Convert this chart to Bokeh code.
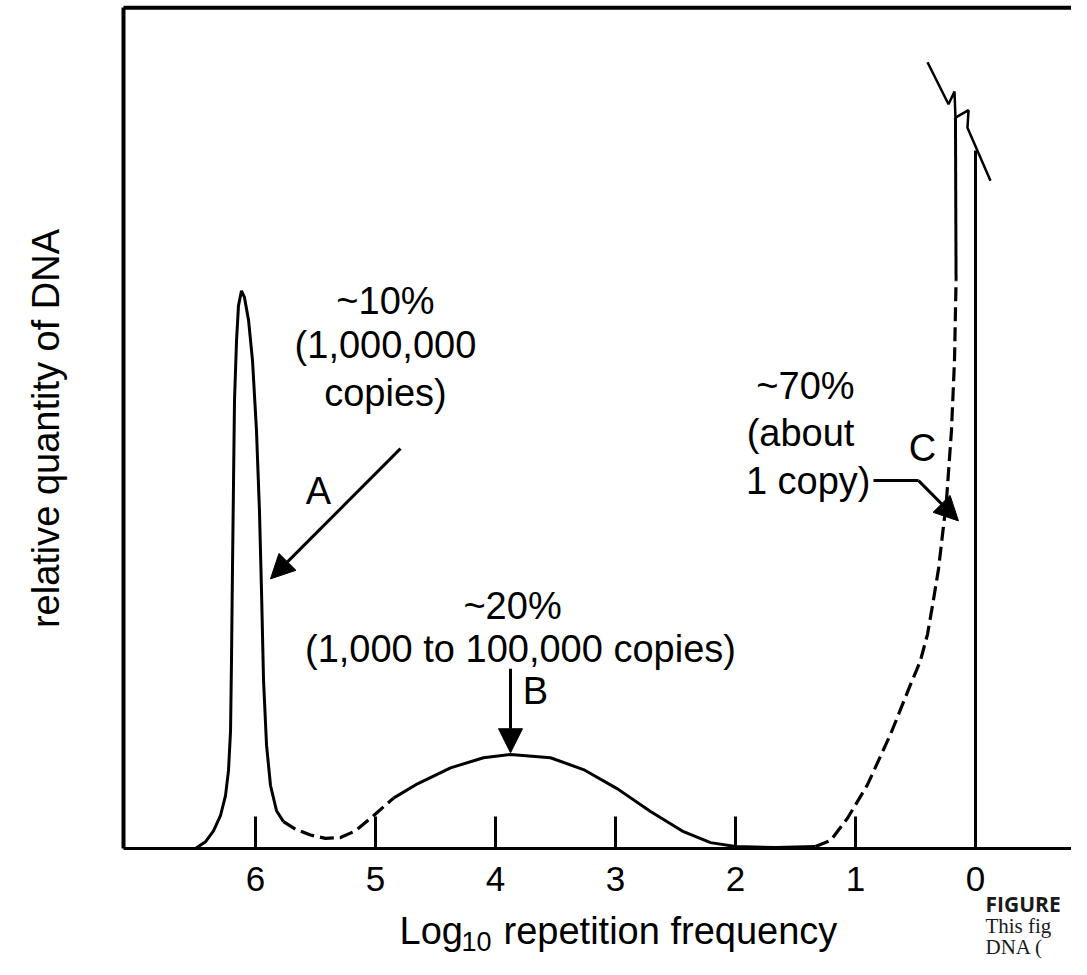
import math
from bokeh.plotting import figure
from bokeh.models import Range1d, FixedTicker, Arrow, NormalHead
from bokeh.core.properties import value
from bokeh.embed import file_html
from bokeh.resources import INLINE

# ---------------- data (x = log10 repetition frequency, y = relative quantity, 0-100) -------------
tick_values = [6, 5, 4, 3, 2, 1, 0]
tick_labels = {6: "6", 5: "5", 4: "4", 3: "3", 2: "2", 1: "1", 0: "0"}

peak_x = [6.500, 6.417, 6.350, 6.292, 6.250, 6.225, 6.208, 6.200, 6.192, 6.183, 6.175, 6.158,
          6.142, 6.117, 6.092, 6.058, 6.025, 5.992, 5.967, 5.950, 5.933, 5.908, 5.875, 5.825, 5.767]
peak_y = [0.0, 0.8, 2.1, 3.9, 6.3, 9.3, 14.0, 22.4, 33.1, 43.8, 53.3, 60.5,
          64.6, 66.4, 65.6, 62.9, 58.1, 49.8, 40.2, 30.7, 20.0, 12.3, 7.5, 4.5, 3.2]

trough_x = [5.767, 5.667, 5.542, 5.417, 5.292, 5.167, 5.017, 4.850]
trough_y = [3.2, 2.3, 1.6, 1.2, 1.3, 2.1, 3.9, 6.0]

hump_x = [4.850, 4.650, 4.375, 4.100, 3.875, 3.542, 3.267, 2.983, 2.708, 2.433, 2.208, 2.000, 1.667, 1.333]
hump_y = [6.0, 7.7, 9.6, 10.8, 11.2, 10.8, 9.4, 7.1, 4.4, 2.0, 0.7, 0.25, 0.12, 0.25]

rise_x = [1.333, 1.208, 1.067, 0.900, 0.708, 0.542, 0.460, 0.400, 0.355, 0.308, 0.242, 0.200, 0.175, 0.162]
rise_y = [0.25, 0.95, 3.6, 7.6, 13.6, 19.5, 22.3, 25.5, 29.2, 33.3, 41.4, 49.8, 58.1, 67.6]

top_x = [0.162, 0.167]
top_y = [67.6, 87.0]

break_x = [0.400, 0.225, 0.175, 0.167, 0.058, 0.067, -0.125]
break_y = [93.6, 88.6, 90.1, 87.0, 87.9, 85.8, 79.5]

zero_x = [0.0, 0.0]
zero_y = [0.0, 83.1]

frame_left = 7.1
frame_top = 100.1
top_border_x = [7.1, -0.9]
top_border_y = [frame_top, frame_top]

# annotation texts
note_x = [4.917, 4.917, 4.917, 5.475, 3.858, 3.792, 3.667, 1.417, 1.458, 0.442]
note_y = [65.2, 59.9, 54.2, 42.6, 28.9, 23.8, 18.8, 55.1, 49.5, 47.7]
note_text = ["~10%", "(1,000,000", "copies)", "A", "~20%", "(1,000 to 100,000 copies)", "B",
             "~70%", "(about", "C"]
copy_x, copy_y, copy_text = [0.875], [43.8], ["1 copy)"]

ylabel_x, ylabel_y, ylabel_text = [7.75], [50.0], ["relative quantity of DNA"]
xtitle_x, xtitle_y, xtitle_text = [4.80, 3.933], [-9.8, -9.8], ["Log", "repetition frequency"]
sub_x, sub_y, sub_text = [4.283], [-11.07], ["10"]
cap_head_x, cap_head_y, cap_head_text = [-0.083], [-6.55], ["FIGURE"]
cap_body_x, cap_body_y, cap_body_text = [-0.083, -0.083], [-9.17, -11.67], ["This fig", "DNA ("]

# arrows: start/end
arrowA = (4.792, 47.6, 5.875, 32.1)
arrowB = (3.875, 21.4, 3.875, 11.4)
leaderC_x = [0.850, 0.475]
leaderC_y = [43.8, 43.8]
arrowC = (0.475, 43.8, 0.142, 39.0)

FONT = "Liberation Sans"
FS = "38px"

p = figure(width=1071, height=959, output_backend="svg", toolbar_location=None,
           x_range=Range1d(8.125, -0.8), y_range=Range1d(-13.214, 100.952),
           min_border=0)
p.outline_line_color = None
p.xgrid.visible = False
p.ygrid.visible = False
p.background_fill_color = "white"
p.border_fill_color = "white"

xa = p.xaxis[0]
xa.fixed_location = 0
xa.bounds = (-0.9, frame_left)
xa.ticker = FixedTicker(ticks=tick_values)
xa.major_label_overrides = tick_labels
xa.major_tick_in = 32
xa.major_tick_out = 0
xa.minor_tick_line_color = None
xa.axis_line_width = 3
xa.axis_line_color = "black"
xa.major_tick_line_width = 3
xa.major_tick_line_color = "black"
xa.major_label_text_font = FONT
xa.major_label_text_font_size = "35px"
xa.major_label_text_color = "black"
xa.major_label_standoff = 18

ya = p.yaxis[0]
ya.fixed_location = frame_left
ya.bounds = (0, frame_top)
ya.ticker = FixedTicker(ticks=[])
ya.minor_tick_line_color = None
ya.major_tick_line_color = None
ya.major_label_text_font_size = "0px"
ya.axis_line_width = 4
ya.axis_line_color = "black"

p.line(top_border_x, top_border_y, line_width=4, line_color="black")

p.line(peak_x, peak_y, line_width=3, line_color="black")
p.line(trough_x, trough_y, line_width=3.2, line_color="black", line_dash="14 6")
p.line(hump_x, hump_y, line_width=3, line_color="black")
p.line(rise_x, rise_y, line_width=3.2, line_color="black", line_dash="14 6")
p.line(top_x, top_y, line_width=3, line_color="black")
p.line(break_x, break_y, line_width=2.5, line_color="black")
p.line(zero_x, zero_y, line_width=3, line_color="black")

txt = dict(text_font=value(FONT), text_font_size=FS, text_baseline="middle", text_color="black")
p.text(x=note_x, y=note_y, text=note_text, text_align="center", **txt)
p.text(x=copy_x, y=copy_y, text=copy_text, text_align="right", **txt)
p.text(x=ylabel_x, y=ylabel_y, text=ylabel_text, text_align="center", angle=math.pi / 2, **txt)
p.text(x=xtitle_x, y=xtitle_y, text=xtitle_text, text_align="left", **txt)
p.text(x=sub_x, y=sub_y, text=sub_text, text_align="left", text_font=value(FONT),
       text_font_size="27px", text_baseline="middle", text_color="black")
p.text(x=cap_head_x, y=cap_head_y, text=cap_head_text, text_align="left",
       text_font=value("Open Sans"), text_font_style="bold", text_font_size="21px",
       text_baseline="middle", text_color="#1a1a1a")
p.text(x=cap_body_x, y=cap_body_y, text=cap_body_text, text_align="left",
       text_font=value("Liberation Serif"), text_font_size="21px",
       text_baseline="middle", text_color="#1a1a1a")

for (xs, ys, xe, ye) in (arrowA, arrowB, arrowC):
    p.add_layout(Arrow(x_start=xs, y_start=ys, x_end=xe, y_end=ye, line_width=3,
                       line_color="black",
                       end=NormalHead(size=24, fill_color="black", line_color="black", line_width=1)))
p.line(leaderC_x, leaderC_y, line_width=3, line_color="black")

open("out.html", "w").write(file_html(p, INLINE))
